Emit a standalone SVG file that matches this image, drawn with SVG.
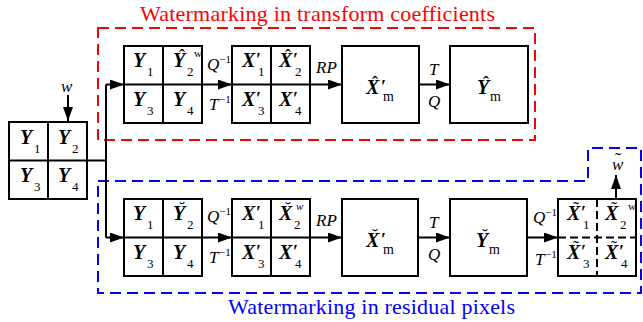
<svg xmlns="http://www.w3.org/2000/svg" width="643" height="322" viewBox="0 0 643 322" font-family="Liberation Serif, 'Times New Roman', serif">
<style>
.bx{fill:#fff;stroke:#000;stroke-width:2}
.ln{fill:none;stroke:#000;stroke-width:2}
.dl{fill:none;stroke:#000;stroke-width:2;stroke-dasharray:8 4}
.m{font-weight:bold;font-style:italic;font-size:20px}
.s{font-weight:normal;font-style:normal;font-size:13px}
.sm{font-weight:normal;font-style:normal;font-size:14px}
.sp{font-weight:normal;font-style:normal;font-size:11px}
.wi{font-weight:normal;font-style:italic;font-size:11px}
.i{font-style:italic;font-size:17px}
.a{font-weight:normal;font-style:normal;font-size:18px;text-anchor:middle}
.pr{font-weight:bold;font-style:normal;font-size:18px}
.cap{font-size:22px}
</style>
<defs>
<marker id="ah" markerUnits="userSpaceOnUse" markerWidth="14" markerHeight="10" refX="14" refY="5" orient="auto"><path d="M0,0 L14,5 L0,10 Z" fill="#000"/></marker>
</defs>

<g id="regions">
<rect x="98" y="28" width="437" height="112" fill="none" stroke="#ff0000" stroke-width="2" stroke-dasharray="11 6"/>
<path d="M98,181 H588 V148 H641 V293 H98 Z" fill="none" stroke="#0000ff" stroke-width="2" stroke-dasharray="11 6"/>
<text class="cap" x="140" y="21" fill="#ff0000" textLength="355">Watermarking in transform coefficients</text>
<text class="cap" x="228" y="314" fill="#0000ff" textLength="287">Watermarking in residual pixels</text>
</g>

<g id="connectors">
<path class="ln" d="M68,95 V121" marker-end="url(#ah)"/>
<path class="ln" d="M87,160.5 H106 M106,84.5 V237.5"/>
<path class="ln" d="M106,84.5 H124" marker-end="url(#ah)"/>
<path class="ln" d="M106,237.5 H124" marker-end="url(#ah)"/>
<path class="ln" d="M202,84.5 H232" marker-end="url(#ah)"/>
<path class="ln" d="M310,84.5 H342" marker-end="url(#ah)"/>
<path class="ln" d="M419,84.5 H450" marker-end="url(#ah)"/>
<path class="ln" d="M202,237.5 H232" marker-end="url(#ah)"/>
<path class="ln" d="M310,237.5 H342" marker-end="url(#ah)"/>
<path class="ln" d="M418,237.5 H450" marker-end="url(#ah)"/>
<path class="ln" d="M527,237.5 H558" marker-end="url(#ah)"/>
<path class="ln" d="M616,199 V175" marker-end="url(#ah)"/>
<text class="i" x="61" y="92">w</text>
<text class="i" x="207" y="70">Q<tspan class="sp" dy="-7">−1</tspan></text>
<text class="i" x="209" y="110">T<tspan class="sp" x="219" dy="-7">−1</tspan></text>
<text class="i" x="316" y="73">RP</text>
<text class="i" x="429" y="75">T</text>
<text class="i" x="428" y="107">Q</text>
<text class="i" x="207" y="222">Q<tspan class="sp" dy="-7">−1</tspan></text>
<text class="i" x="209" y="263">T<tspan class="sp" x="219" dy="-7">−1</tspan></text>
<text class="i" x="316" y="226">RP</text>
<text class="i" x="429" y="228">T</text>
<text class="i" x="428" y="260">Q</text>
<text class="i" x="533" y="223">Q<tspan class="sp" dy="-7">−1</tspan></text>
<text class="i" x="535" y="265">T<tspan class="sp" x="545" dy="-7">−1</tspan></text>
<text class="i" x="612" y="170">w<tspan class="a" x="618" dy="-4">˜</tspan></text>
</g>

<g id="input">
<rect class="bx" x="9" y="122" width="78" height="77"/>
<path class="ln" d="M48,122 V199 M9,160.5 H87"/>
<text class="m" x="20" y="144">Y<tspan class="s" x="34" dy="9">1</tspan></text>
<text class="m" x="58" y="144">Y<tspan class="s" x="72" dy="9">2</tspan></text>
<text class="m" x="20" y="182">Y<tspan class="s" x="34" dy="9">3</tspan></text>
<text class="m" x="58" y="182">Y<tspan class="s" x="72" dy="9">4</tspan></text>
</g>

<g id="top-Y">
<rect class="bx" x="124" y="46" width="78" height="77"/>
<path class="ln" d="M163,46 V123 M124,84.5 H202"/>
<text class="m" x="133" y="67">Y<tspan class="s" x="147" dy="9">1</tspan></text>
<text class="m" x="173" y="67">Y<tspan class="a" x="182" dy="-5">ˆ</tspan><tspan class="s" x="187" dy="14">2</tspan><tspan class="sp" x="194" dy="-19">w</tspan></text>
<text class="m" x="133" y="106">Y<tspan class="s" x="147" dy="9">3</tspan></text>
<text class="m" x="173" y="106">Y<tspan class="s" x="187" dy="9">4</tspan></text>
</g>

<g id="top-X">
<rect class="bx" x="232" y="46" width="78" height="77"/>
<path class="ln" d="M271,46 V123 M232,84.5 H310"/>
<text class="m" x="242" y="67">X<tspan class="pr" x="256" dy="-1">′</tspan><tspan class="s" x="258" dy="10">1</tspan></text>
<text class="m" x="279" y="67">X<tspan class="a" x="288" dy="-5">ˆ</tspan><tspan class="pr" x="293" dy="4">′</tspan><tspan class="s" x="295" dy="10">2</tspan></text>
<text class="m" x="242" y="106">X<tspan class="pr" x="256" dy="-1">′</tspan><tspan class="s" x="258" dy="10">3</tspan></text>
<text class="m" x="279" y="106">X<tspan class="pr" x="293" dy="-1">′</tspan><tspan class="s" x="295" dy="10">4</tspan></text>
</g>

<g id="top-Xm">
<rect class="bx" x="342" y="46" width="77" height="77"/>
<text class="m" x="366" y="94">X<tspan class="a" x="375" dy="-5">ˆ</tspan><tspan class="pr" x="381" dy="4">′</tspan><tspan class="sm" x="383" dy="8">m</tspan></text>
</g>

<g id="top-Ym">
<rect class="bx" x="450" y="46" width="78" height="77"/>
<text class="m" x="477" y="94">Y<tspan class="a" x="486" dy="-5">ˆ</tspan><tspan class="sm" x="490" dy="12">m</tspan></text>
</g>

<g id="bot-Y">
<rect class="bx" x="124" y="199" width="78" height="77"/>
<path class="ln" d="M163,199 V276 M124,237.5 H202"/>
<text class="m" x="133" y="220">Y<tspan class="s" x="147" dy="9">1</tspan></text>
<text class="m" x="173" y="220">Y<tspan class="a" x="182" dy="-5">˘</tspan><tspan class="s" x="187" dy="14">2</tspan></text>
<text class="m" x="133" y="259">Y<tspan class="s" x="147" dy="9">3</tspan></text>
<text class="m" x="173" y="259">Y<tspan class="s" x="187" dy="9">4</tspan></text>
</g>

<g id="bot-X">
<rect class="bx" x="232" y="199" width="78" height="77"/>
<path class="ln" d="M271,199 V276 M232,237.5 H310"/>
<text class="m" x="242" y="220">X<tspan class="pr" x="256" dy="-1">′</tspan><tspan class="s" x="258" dy="10">1</tspan></text>
<text class="m" x="279" y="220">X<tspan class="a" x="288" dy="-5">˘</tspan><tspan class="s" x="294" dy="14">2</tspan><tspan class="wi" x="296" dy="-19">w</tspan></text>
<text class="m" x="242" y="259">X<tspan class="pr" x="256" dy="-1">′</tspan><tspan class="s" x="258" dy="10">3</tspan></text>
<text class="m" x="279" y="259">X<tspan class="pr" x="293" dy="-1">′</tspan><tspan class="s" x="295" dy="10">4</tspan></text>
</g>

<g id="bot-Xm">
<rect class="bx" x="342" y="199" width="76" height="77"/>
<text class="m" x="366" y="247">X<tspan class="a" x="375" dy="-5">˘</tspan><tspan class="pr" x="381" dy="4">′</tspan><tspan class="sm" x="383" dy="8">m</tspan></text>
</g>

<g id="bot-Ym">
<rect class="bx" x="450" y="199" width="77" height="77"/>
<text class="m" x="476" y="247">Y<tspan class="a" x="485" dy="-5">˘</tspan><tspan class="sm" x="489" dy="12">m</tspan></text>
</g>

<g id="bot-Xt">
<rect class="bx" x="558" y="199" width="78" height="77"/>
<path class="dl" d="M597,199 V276 M558,237.5 H636"/>
<text class="m" x="567" y="220">X<tspan class="a" x="576" dy="-5">˜</tspan><tspan class="pr" x="581" dy="4">′</tspan><tspan class="s" x="583" dy="10">1</tspan></text>
<text class="m" x="605" y="220">X<tspan class="a" x="614" dy="-5">˜</tspan><tspan class="s" x="620" dy="14">2</tspan><tspan class="sp" x="628" dy="-19">w</tspan></text>
<text class="m" x="567" y="259">X<tspan class="a" x="576" dy="-5">˜</tspan><tspan class="pr" x="581" dy="4">′</tspan><tspan class="s" x="583" dy="10">3</tspan></text>
<text class="m" x="605" y="259">X<tspan class="a" x="614" dy="-5">˜</tspan><tspan class="pr" x="619" dy="4">′</tspan><tspan class="s" x="621" dy="10">4</tspan></text>
</g>
</svg>
